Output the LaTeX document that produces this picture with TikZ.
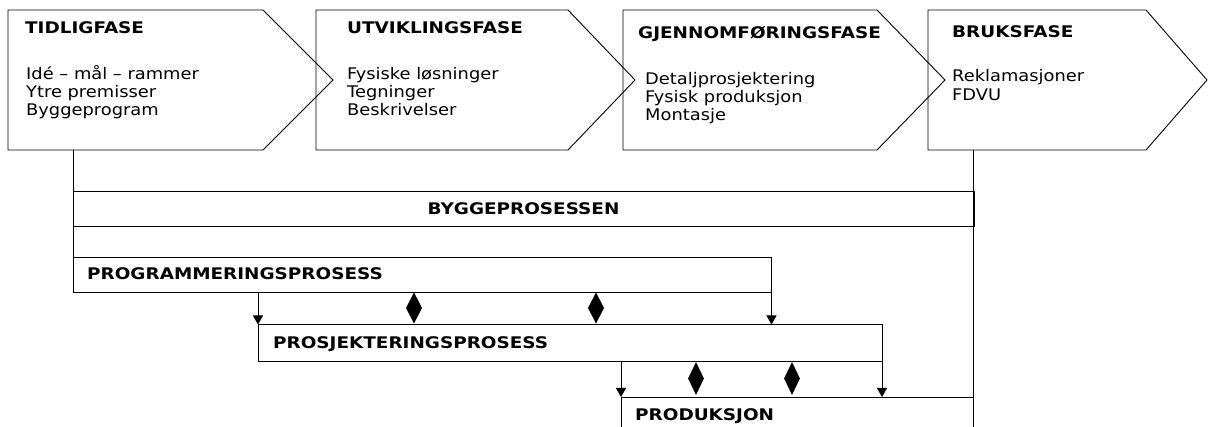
\documentclass[tikz,border=0pt]{standalone}
\usepackage{fontspec}
\setmainfont{DejaVu Sans}[FakeStretch=1.115, BoldFeatures={FakeStretch=1.15}]
\usetikzlibrary{arrows.meta,shapes.geometric}

\tikzset{
  ln/.style={line width=0.9pt, draw=black},
  bar/.style={ln, draw, anchor=north west, inner sep=0pt, outer sep=0pt},
  ttl/.style={font=\fontsize{16}{18}\selectfont\bfseries, anchor=base west, inner sep=0pt},
  itm/.style={font=\fontsize{16}{18}\selectfont, anchor=base west, inner sep=0pt},
  sync/.style={diamond, fill=black, draw=none, inner sep=0pt, aspect=0.5,
               minimum width=16pt, minimum height=#1},
  flow/.style={ln, -{Triangle[width=10pt,length=9pt]}},
}

\begin{document}
\begin{tikzpicture}[x=1pt,y=-1pt]
\clip (0,0) rectangle (1208,427);
\fill[white] (0,0) rectangle (1208,427);

% phase chevrons
\draw[ln] (8,10) -- (263,10) -- (333,80) -- (263,150) -- (8,150) -- cycle;
\draw[ln] (316,10) -- (568,10) -- (635,80) -- (568,150) -- (316,150) -- cycle;
\draw[ln] (623,10) -- (877,10) -- (945,80) -- (877,150) -- (623,150) -- cycle;
\draw[ln] (928,10) -- (1146,10) -- (1207,80) -- (1146,150) -- (928,150) -- cycle;
\coordinate (tidlig) at (73,150);
\coordinate (bruk) at (973,150);
\coordinate (bunn) at (973,440);

% phase texts
\node[ttl] (t1) at (25,34) {TIDLIGFASE};
\node[itm] (i1a) at (26,80) {Idé – mål – rammer};
\node[itm] (i1b) at (26,98) {Ytre premisser};
\node[itm] (i1c) at (26,116) {Byggeprogram};

\node[ttl] (t2) at (347,34) {UTVIKLINGSFASE};
\node[itm] (i2a) at (347,80) {Fysiske løsninger};
\node[itm] (i2b) at (347,98) {Tegninger};
\node[itm] (i2c) at (347,116) {Beskrivelser};

\node[ttl] (t3) at (638,39) {GJENNOMFØRINGSFASE};
\node[itm] (i3a) at (645,85) {Detaljprosjektering};
\node[itm] (i3b) at (645,103) {Fysisk produksjon};
\node[itm] (i3c) at (645,121) {Montasje};

\node[ttl] (t4) at (952,37.5) {BRUKSFASE};
\node[itm] (i4a) at (952,82) {Reklamasjoner};
\node[itm] (i4b) at (952,101) {FDVU};

% process bars
\node[bar, minimum width=901pt, minimum height=35.5pt] (bygg) at (73,191) {};
\node[bar, minimum width=698.5pt, minimum height=35pt] (prog) at (73,257) {};
\node[bar, minimum width=624pt, minimum height=36.5pt] (prosj) at (258,324.5) {};
\node[bar, minimum width=352pt, minimum height=60pt] (prod) at (621,397) {};

\node[ttl, anchor=base] (lb) at (523.5,214.5) {BYGGEPROSESSEN};
\node[ttl] (lp) at (87,280) {PROGRAMMERINGSPROSESS};
\node[ttl] (lj) at (273,349) {PROSJEKTERINGSPROSESS};
\node[ttl] (ld) at (635,420.5) {PRODUKSJON};

% frame lines
\draw[ln] (tidlig) -- (prog.south west);
\draw[ln] (bruk) -- (bunn);

% hand-overs between processes
\draw[flow] (prog.south west -| prosj.north west) -- (prosj.north west);
\draw[flow] (prog.south east) -- (prog.south east |- prosj.north);
\draw[flow] (prosj.south west -| prod.north west) -- (prod.north west);
\draw[flow] (prosj.south east) -- (prosj.south east |- prod.north);

% overlap markers
\node[sync=31.5pt] (d1) at (414,308) {};
\node[sync=31.5pt] (d2) at (596,308) {};
\node[sync=33pt] (d3) at (696,378.5) {};
\node[sync=33pt] (d4) at (792,378.5) {};
\end{tikzpicture}
\end{document}
